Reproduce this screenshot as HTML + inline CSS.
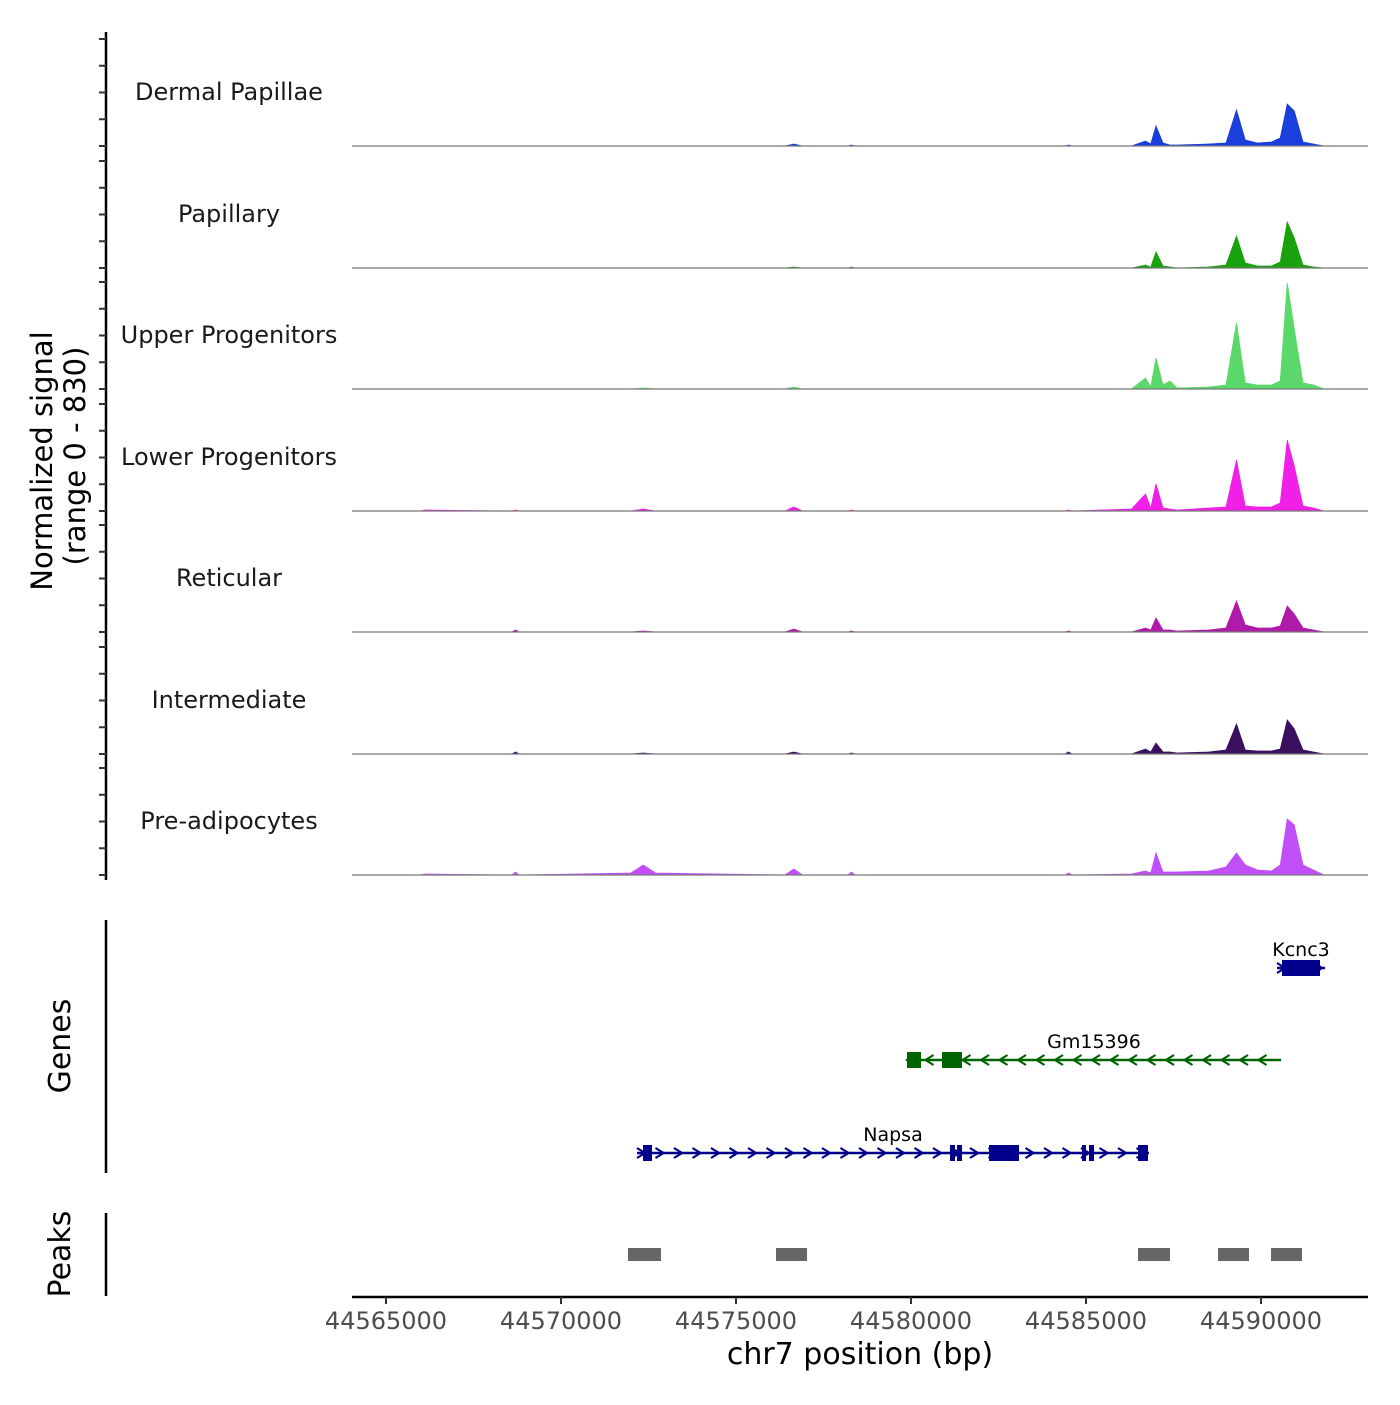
<!DOCTYPE html>
<html><head><meta charset="utf-8"><style>
body{margin:0;background:#fff;}
svg text{font-family:"DejaVu Sans","Liberation Sans",sans-serif;}
</style></head><body>
<svg id="c" width="1400" height="1400" xmlns="http://www.w3.org/2000/svg"></svg>
<script>
const trackNames=["Dermal Papillae","Papillary","Upper Progenitors","Lower Progenitors","Reticular","Intermediate","Pre-adipocytes"];
const trackColors=["#1a3fdc","#1aa10e","#5ad96a","#f020e6","#b01aa8","#3a0f5e","#c050f5"];
const positions=[44564100,44566000,44566100,44568600,44568700,44568800,44572000,44572350,44572700,44576400,44576650,44576900,44578200,44578300,44578400,44584400,44584500,44584600,44586300,44586700,44586850,44587000,44587200,44587400,44587600,44588500,44589000,44589300,44589550,44589900,44590300,44590550,44590750,44590950,44591200,44591500,44591800];
const sigDermal=[0,0,0,0,0,0,0,0,0,0,15,0,0,7,0,0,7,0,0,37,15,150,22,7,7,15,22,269,45,22,30,60,314,262,30,15,0];
const sigPapillary=[0,0,0,0,0,0,0,0,0,0,7,0,0,7,0,0,0,0,0,22,7,120,15,7,0,7,22,239,37,15,15,45,344,224,22,7,0];
const sigUpper=[0,0,0,0,0,0,0,7,0,0,15,0,0,0,0,0,0,0,0,82,15,232,30,60,7,15,30,494,45,30,30,60,793,449,45,30,0];
const sigLower=[0,0,7,0,7,0,0,15,0,0,30,0,0,7,0,0,7,0,15,127,22,202,22,15,7,22,30,381,37,30,30,60,531,337,37,22,0];
const sigReticular=[0,0,0,0,15,0,0,7,0,0,22,0,0,7,0,0,7,0,0,30,15,105,15,15,7,15,30,232,52,30,30,45,194,135,30,15,0];
const sigIntermediate=[0,0,0,0,15,0,0,7,0,0,15,0,0,7,0,0,15,0,0,37,15,82,15,15,7,15,30,224,30,22,22,37,254,187,30,15,0];
const sigPreadipo=[0,0,7,0,22,0,15,75,15,0,45,0,0,22,0,0,15,0,7,30,15,165,22,22,22,30,60,165,75,37,30,75,419,374,75,37,0];
const signals=[sigDermal,sigPapillary,sigUpper,sigLower,sigReticular,sigIntermediate,sigPreadipo];
const baselines=[146,268,389,511,632,754,875];
const axisTicks=[44565000,44570000,44575000,44580000,44585000,44590000];
const geneNames=["Kcnc3","Gm15396","Napsa"];
const geneStart=[44590457,44579886,44572171];
const geneEnd=[44591829,44590571,44586800];
const geneStrand=[1,-1,1];
const geneExons=[[[44590600,44591686]],[[44579886,44580286],[44580886,44581457]],[[44572343,44572600],[44581114,44581257],[44581314,44581457],[44582229,44583086],[44584886,44585000],[44585086,44585229],[44586486,44586771]]];
const peakStart=[44571914,44576143,44586486,44588771,44590286];
const peakEnd=[44572857,44577029,44587400,44589657,44591171];

const NS="http://www.w3.org/2000/svg";
const svg=document.getElementById('c');
function X(bp){return 386+(bp-44565000)*0.035;}
function Y(v,base){return base-v/830*111;}
function mk(tag,attrs,txt){const e=document.createElementNS(NS,tag);for(const k in attrs)e.setAttribute(k,attrs[k]);if(txt!==undefined)e.textContent=txt;svg.appendChild(e);return e;}

let e=mk('line',{x1:106,y1:32,x2:106,y2:880,stroke:'#000','stroke-width':2.5});


baselines.forEach(b=>{for(let k=0;k<5;k++){const t=mk('line',{x1:99,x2:106,y1:Y(k*200,b),y2:Y(k*200,b),stroke:'#333','stroke-width':2});

}});
e=mk('text',{x:0,y:0,transform:'translate(52,461) rotate(-90)','text-anchor':'middle','font-size':29},'Normalized signal');


e=mk('text',{x:0,y:0,transform:'translate(85,456) rotate(-90)','text-anchor':'middle','font-size':29},'(range 0 - 830)');



signals.forEach((s,i)=>{
  const b=baselines[i];
  let pts=`${X(positions[0])},${b} `+positions.map((p,j)=>`${X(p)},${Y(s[j],b)}`).join(' ')+` ${X(positions[positions.length-1])},${b}`;
  let p=mk('polygon',{points:pts,fill:trackColors[i],stroke:trackColors[i],'stroke-width':0.8});
  
  
  let l=mk('line',{x1:352,x2:1368,y1:b,y2:b,stroke:'#777','stroke-width':1.2});
  
  
  let t=mk('text',{x:229,y:b-46,'text-anchor':'middle','font-size':24,fill:'#1a1a1a'},trackNames[i]);
  
  
});

e=mk('line',{x1:106,y1:920,x2:106,y2:1173,stroke:'#000','stroke-width':2.5});


e=mk('text',{x:0,y:0,transform:'translate(70,1046) rotate(-90)','text-anchor':'middle','font-size':30},'Genes');


const geneY=[968,1060,1153];
const geneCol=["#00008b","#006400","#00008b"];
geneNames.forEach((g,i)=>{
  const y=geneY[i],c=geneCol[i],x1=X(geneStart[i]),x2=X(geneEnd[i]);
  let l=mk('line',{x1:x1,x2:x2,y1:y,y2:y,stroke:c,'stroke-width':2.5});
  
  
  for(let x=x1+4;x<x2;x+=18.5){const d=geneStrand[i]*4;
    let a=mk('polyline',{points:`${x-d},${y-5} ${x+d},${y} ${x-d},${y+5}`,fill:'none',stroke:c,'stroke-width':2.2});
    
    }
  geneExons[i].forEach(ex=>{let r=mk('rect',{x:X(ex[0]),y:y-8,width:Math.max(3,X(ex[1])-X(ex[0])),height:16,fill:c});
    
    });
  let t=mk('text',{x:(x1+x2)/2,y:y-12,'text-anchor':'middle','font-size':19,fill:'#000'},g);
  
  
});

e=mk('line',{x1:106,y1:1213,x2:106,y2:1296,stroke:'#000','stroke-width':2.5});


e=mk('text',{x:0,y:0,transform:'translate(70,1254) rotate(-90)','text-anchor':'middle','font-size':30},'Peaks');


peakStart.forEach((s,i)=>{let r=mk('rect',{x:X(s),y:1248,width:X(peakEnd[i])-X(s),height:13,fill:'#666'});
  
  });

e=mk('line',{x1:352,x2:1368,y1:1297,y2:1297,stroke:'#000','stroke-width':2.5});


axisTicks.forEach(t=>{const x=X(t);
  let l=mk('line',{x1:x,x2:x,y1:1297,y2:1304,stroke:'#333','stroke-width':2});
  
  
  let tx=mk('text',{x:x,y:1329,'text-anchor':'middle','font-size':24,fill:'#4d4d4d'},String(t));
  
  });
e=mk('text',{x:860,y:1364,'text-anchor':'middle','font-size':30,fill:'#000'},'chr7 position (bp)');


</script>
</body></html>
